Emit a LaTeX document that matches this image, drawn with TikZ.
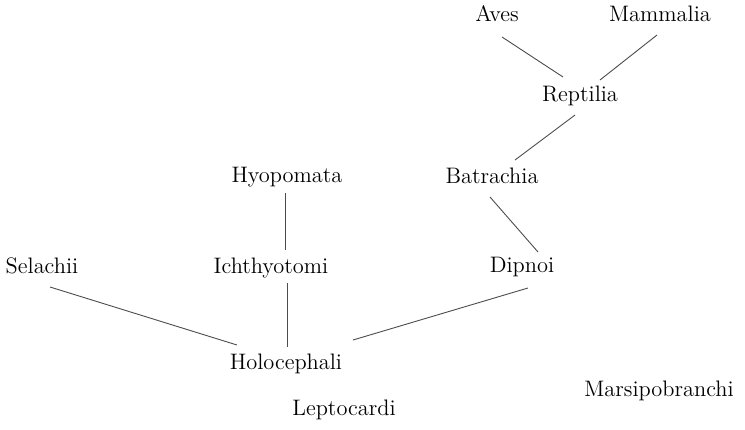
\documentclass[tikz,border=0pt]{standalone}
\usepackage{tikz}
\usetikzlibrary{calc}

\begin{document}
\begin{tikzpicture}[
  x=0.5pt, y=-0.5pt,
  taxon/.style={font=\fontsize{11.2}{13}\selectfont, text=black,
                inner sep=0pt, anchor=base},
  branch/.style={line width=0.45pt, draw=black!70}
]
\useasboundingbox (0,0) rectangle (745,429);

% ── Taxa (placed on their baselines) ──
\node[taxon] (aves) at (497,21)  {Aves};
\node[taxon] (mam)  at (660,21)  {Mammalia};
\node[taxon] (rep)  at (580,101) {Reptilia};
\node[taxon] (bat)  at (492,183) {Batrachia};
\node[taxon] (hyo)  at (287,182) {Hyopomata};
\node[taxon] (sel)  at (42,273)  {Selachii};
\node[taxon] (ich)  at (271,273) {Ichthyotomi};
\node[taxon] (dip)  at (522,272) {Dipnoi};
\node[taxon] (hol)  at (286,369) {Holocephali};
\node[taxon] (mars) at (659,396) {Marsipobranchi};
\node[taxon] (lep)  at (344,415) {Leptocardi};

% ── Upper branches ──
\draw[branch] ($(aves.base)+(5,16)$) -- ($(rep.base)+(-17,-24)$);
\draw[branch] ($(mam.base)+(-3,14)$) -- ($(rep.base)+(20,-21)$);
\draw[branch] ($(rep.base)+(-5,14)$) -- ($(bat.base)+(23,-23)$);
\draw[branch] ($(bat.base)+(-2,14)$) -- ($(dip.base)+(16,-20)$);

% ── Lower branches ──
\draw[branch] ($(hyo.base)+(-2,11)$) -- ($(ich.base)+(14,-23)$);
\draw[branch] ($(ich.base)+(16,10)$) -- ($(hol.base)+(1,-22)$);
\draw[branch] ($(sel.base)+(8,14)$)  -- ($(hol.base)+(-49,-24)$);
\draw[branch] ($(dip.base)+(6,16)$)  -- ($(hol.base)+(67,-29)$);
\end{tikzpicture}
\end{document}
